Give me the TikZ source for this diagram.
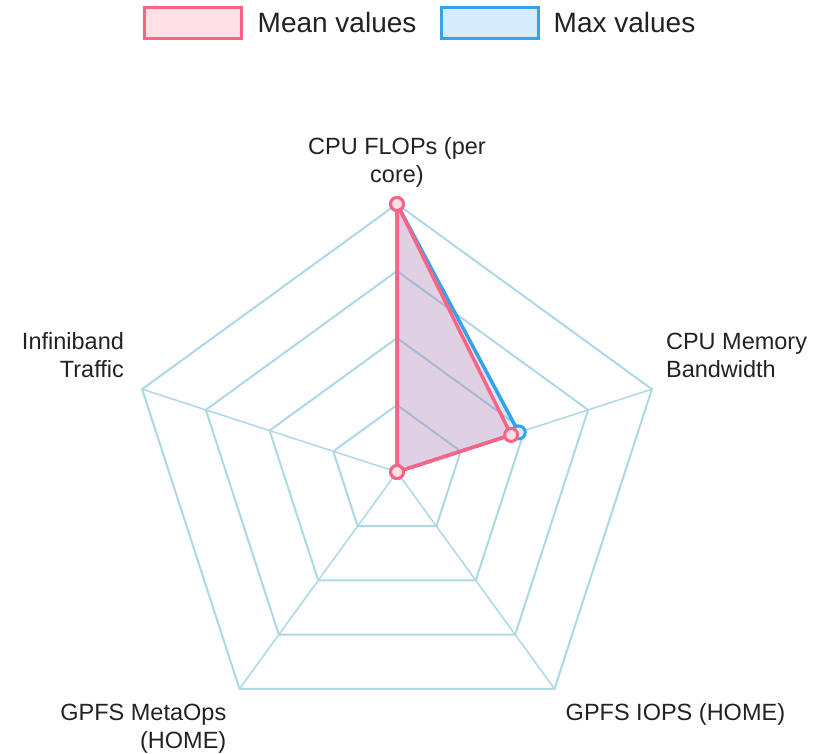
\documentclass[tikz,border=0pt]{standalone}
\usepackage{fontspec}
\setmainfont{Liberation Sans}
\usetikzlibrary{positioning,shapes.geometric}
\definecolor{gridblue}{RGB}{173,216,230}
\definecolor{meanred}{RGB}{255,99,132}
\definecolor{maxblue}{RGB}{54,162,235}
\definecolor{inktext}{RGB}{34,34,34}

\begin{document}
\begin{tikzpicture}[x=1pt, y=1pt,
    ring/.style={regular polygon, regular polygon sides=5, draw=gridblue,
      line width=2pt, inner sep=0pt, outer sep=0pt, minimum size=#1},
    spoke/.style={draw=gridblue, line width=1.5pt},
    lbl/.style={font=\fontsize{23.5}{28}\selectfont, text=inktext, inner sep=0pt},
    key/.style={font=\fontsize{28}{32}\selectfont, text=inktext, inner sep=0pt},
    swatch/.style={draw=#1, fill=#1!20, line width=3pt, minimum width=97pt,
      minimum height=31pt, inner sep=0pt},
    series/.style={draw=#1, fill=#1, fill opacity=0.2, line width=3.5pt, line join=round},
    dot/.style={circle, draw=#1, fill=#1!20, line width=3pt, minimum size=13pt, inner sep=0pt}]
  \useasboundingbox (0,0) rectangle (817,754);
  \coordinate (c) at (397,282);

  % grid
  \foreach \k in {1,...,4}
    \node[ring=2*67*\k pt] (ring\k) at (c) {};
  \foreach \i in {1,...,5}
    \draw[spoke] (c) -- (ring4.corner \i);

  % data
  \coordinate (m1) at (ring4.corner 1);
  \coordinate (m2) at ([shift={(18:120)}]c);
  \coordinate (x1) at (ring4.corner 1);
  \coordinate (x2) at ([shift={(18:128)}]c);

  \draw[series=maxblue] (x1) -- (x2) -- (c) -- cycle;
  \foreach \p in {x1,x2,c}
    \node[dot=maxblue] (xd-\p) at (\p) {};
  \draw[series=meanred] (m1) -- (m2) -- (c) -- cycle;
  \foreach \p in {m1,m2,c}
    \node[dot=meanred] (md-\p) at (\p) {};

  % axis labels
  \node[lbl, align=center, above=16pt of ring4.corner 1] (l1) {CPU FLOPs (per\\core)};
  \node[lbl, align=left, anchor=west] (l2) at ([shift={(14,34)}]ring4.corner 5) {CPU Memory\\Bandwidth};
  \node[lbl, anchor=west] (l3) at ([shift={(11,-26)}]ring4.corner 4) {GPFS IOPS (HOME)};
  \node[lbl, align=right, anchor=east] (l4) at ([shift={(-13,-40)}]ring4.corner 3) {GPFS MetaOps\\(HOME)};
  \node[lbl, align=right, anchor=east] (l5) at ([shift={(-18,34)}]ring4.corner 2) {Infiniband\\Traffic};

  % legend
  \node[swatch=meanred] (mbox) at (193,731) {};
  \node[key, right=14.5pt of mbox] (mtxt) {Mean values};
  \node[swatch=maxblue] (xbox) at (489.5,731) {};
  \node[key, right=14pt of xbox] (xtxt) {Max values};
\end{tikzpicture}
\end{document}
